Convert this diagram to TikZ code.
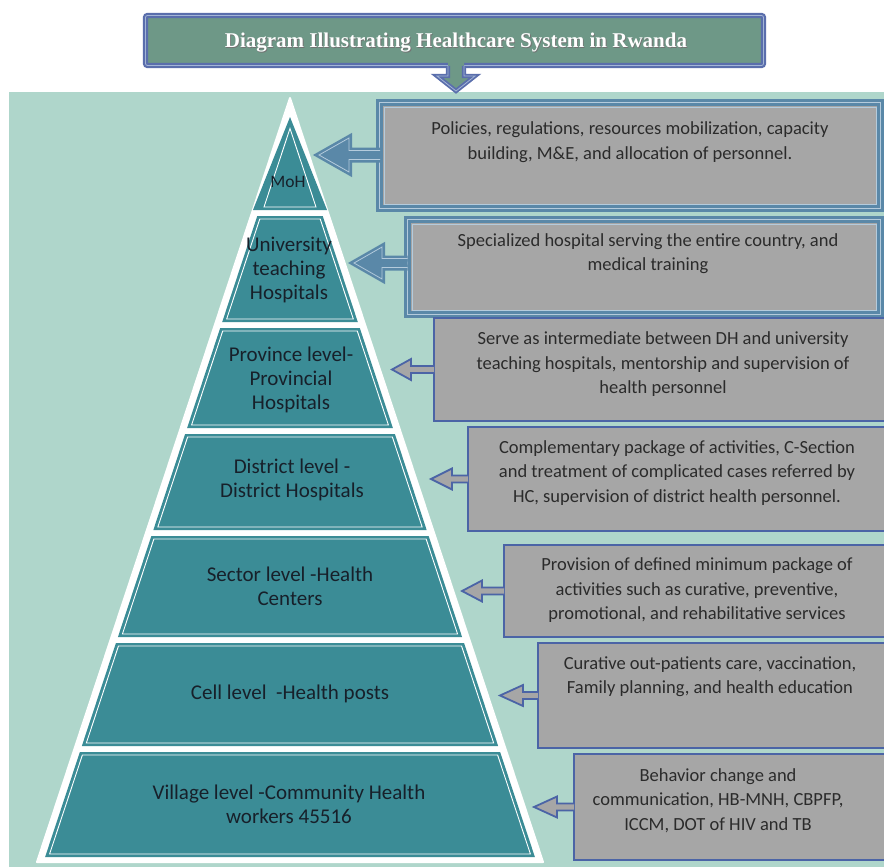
\documentclass[tikz,border=0pt]{standalone}
\usepackage{fontspec}
\setmainfont{Carlito}
\newfontfamily\titlefont{Liberation Serif}
\usetikzlibrary{calc}
\definecolor{mint}{HTML}{AFD6CB}
\definecolor{teal1}{HTML}{3B8C96}
\definecolor{boxgray}{HTML}{A6A6A6}
\definecolor{edgeblue}{HTML}{4B64A6}
\definecolor{steel}{HTML}{5A88A8}
\definecolor{lightline}{HTML}{B4CBDC}
\definecolor{titlefill}{HTML}{6E9887}
\definecolor{titleedge}{HTML}{5A6EAC}
\definecolor{titlelight}{HTML}{A3B5D6}
\definecolor{ptext}{HTML}{17202A}
\definecolor{btext}{HTML}{2B2B2B}
\tikzset{
  ptxt/.style={font=\fontsize{21}{24}\selectfont, text=ptext, align=center, inner sep=0pt},
  btxt/.style={font=\fontsize{18.5}{24.5}\selectfont, text=btext, align=center, inner sep=0pt},
  gbox/.style={draw=edgeblue, line width=2pt, fill=boxgray, outer sep=0pt, inner sep=0pt, anchor=north west},
  bigframe/.style={draw=steel, line width=3pt, double=lightline, double distance=0.8pt, fill=boxgray, outer sep=0pt, inner sep=0pt, anchor=north west},
  sarrow/.style={draw=edgeblue, line width=1.8pt, fill=boxgray, line join=miter},
  bigarrow/.style={draw=steel, line width=2.6pt, double=lightline, double distance=0.8pt, fill=steel, line join=miter},
  titlebox/.style={draw=titleedge, line width=2.2pt, double=titlelight, double distance=0.8pt, fill=titlefill, rounded corners=2pt, outer sep=0pt, inner sep=0pt, anchor=north west},
}
\newcommand\sarrw[3]{%
  \draw[sarrow] ($(#1.west)+(0,-3.5)$) -- ++(-#2+#3,0) -- ++(0,-7) -- ($(#1.west)+(-#2,0)$)
     -- ($(#1.west)+(-#2+#3,10.5)$) -- ++(0,-7) -- ($(#1.west)+(0,3.5)$);}
\begin{document}
\begin{tikzpicture}[x=1pt,y=-1pt]
\useasboundingbox (0,0) rectangle (884,867);
\clip (0,0) rectangle (884,867);
% background
\fill[white] (0,0) rectangle (884,867);
\fill[mint] (9,92) rectangle (890,870);
% title
\node[titlebox, minimum width=618, minimum height=50] (titlebox) at (145.5,15.5) {};
\fill[titlefill] (448,60) -- (448,76) -- (437,76) -- (456,91) -- (475,76) -- (464,76) -- (464,60) -- cycle;
\draw[draw=titleedge, line width=1.8pt, double=titlelight, double distance=0.8pt, line join=miter]
  (448,66) -- (448,76) -- (437,76) -- (456,91) -- (475,76) -- (464,76) -- (464,66);
\node[font=\titlefont\bfseries\fontsize{21}{24}\selectfont, text=black!55] (titleshadow) at (456.8,43.8) {Diagram Illustrating Healthcare System in Rwanda};
\node[font=\titlefont\bfseries\fontsize{21}{24}\selectfont, text=white] (title) at (456,43) {Diagram Illustrating Healthcare System in Rwanda};
% pyramid outer
\fill[white, draw=white, line width=2pt, line join=round] (290,98) -- (290-253,862) -- (290+253,862) -- cycle;
% MoH triangle
\fill[teal1] (290,117) -- (290+37,210) -- (290-37,210) -- cycle;
\draw[white, line width=0.9pt] (290,128.5) -- (290+26,207) -- (290-26,207) -- cycle;
% layers
\foreach \t/\b in {216/322, 328/428, 434/530, 536/637, 643/746, 752/857}{
  \pgfmathsetmacro{\wt}{(\t-99)*0.331-6}
  \pgfmathsetmacro{\wb}{(\b-99)*0.331-6}
  \pgfmathsetmacro{\it}{(\t+3-99)*0.331-9.5}
  \pgfmathsetmacro{\ib}{(\b-3-99)*0.331-9.5}
  \fill[teal1] (290-\wt,\t) -- (290+\wt,\t) -- (290+\wb,\b) -- (290-\wb,\b) -- cycle;
  \draw[white, line width=0.9pt] (290-\it,\t+3) -- (290+\it,\t+3) -- (290+\ib,\b-3) -- (290-\ib,\b-3) -- cycle;
}
% pyramid labels
\node[ptxt, font=\fontsize{17.5}{20}\selectfont] (moh) at (288,182) {MoH};
\node[ptxt] (uni) at (289,270) {University\\teaching\\Hospitals};
\node[ptxt] (prov) at (291,380) {Province level-\\Provincial\\Hospitals};
\node[ptxt] (dist) at (292,480) {District level -\\District Hospitals};
\node[ptxt] (sect) at (290,586) {Sector level -Health\\Centers};
\node[ptxt] (cell) at (290,694) {Cell level~ -Health posts};
\node[ptxt] (vill) at (289,804.5) {Village level -Community Health\\workers 45516};
% boxes
\node[bigframe, minimum width=501, minimum height=106] (b1) at (379.5,102.5) {};
\draw[lightline, line width=1pt] (384,107) rectangle (876,204);
\node[bigframe, minimum width=473, minimum height=95] (b2) at (407.5,219.5) {};
\draw[lightline, line width=1pt] (412,224) rectangle (876,310);
\node[gbox, minimum width=460, minimum height=103] (b3) at (434,318) {};
\node[gbox, minimum width=430, minimum height=104] (b4) at (468,427) {};
\node[gbox, minimum width=390, minimum height=92] (b5) at (504,545) {};
\node[gbox, minimum width=356, minimum height=105] (b6) at (538,643) {};
\node[gbox, minimum width=320, minimum height=106] (b7) at (574,754) {};
% big arrows
\draw[bigarrow] (380,150.5) -- (349,150.5) -- (349,138) -- (319,155) -- (349,172) -- (349,159.5) -- (380,159.5);
\draw[bigarrow] (407.5,258.5) -- (382,258.5) -- (382,247) -- (354,263) -- (382,279) -- (382,267.5) -- (407.5,267.5);
% small arrows
\sarrw{b3}{42}{19}
\sarrw{b4}{37}{21}
\sarrw{b5}{42}{20}
\sarrw{b6}{38}{23}
\sarrw{b7}{40}{23}
% box texts
\node[btxt] (t1) at (630,142) {Policies, regulations, resources mobilization, capacity\\building, M\&E, and allocation of personnel.};
\node[btxt] (t2) at (648,253.5) {Specialized hospital serving the entire country, and\\medical training};
\node[btxt] (t3) at (663,364.5) {Serve as intermediate between DH and university\\teaching hospitals, mentorship and supervision of\\health personnel};
\node[btxt] (t4) at (677,473) {Complementary package of activities, C-Section\\and treatment of complicated cases referred by\\HC, supervision of district health personnel.};
\node[btxt] (t5) at (697,590.5) {Provision of defined minimum package of\\activities such as curative, preventive,\\promotional, and rehabilitative services};
\node[btxt] (t6) at (710,676.5) {Curative out-patients care, vaccination,\\Family planning, and health education};
\node[btxt] (t7) at (718,800.5) {Behavior change and\\communication, HB-MNH, CBPFP,\\ICCM, DOT of HIV and TB};
\end{tikzpicture}
\end{document}
